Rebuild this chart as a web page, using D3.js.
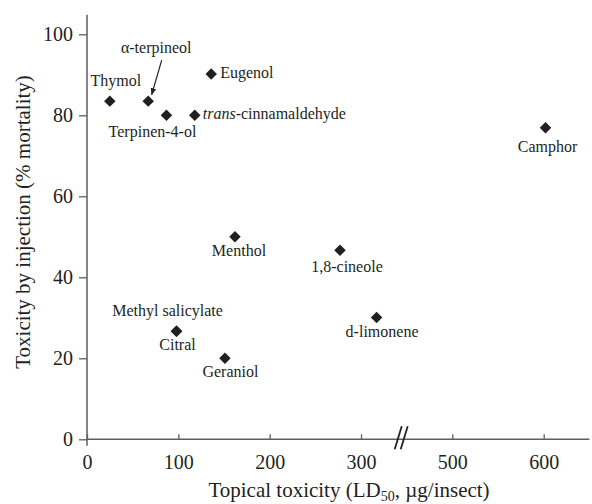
<!DOCTYPE html>
<html>
<head>
<meta charset="utf-8">
<script src="https://cdn.jsdelivr.net/npm/d3@7"></script>
<style>
  html, body { margin: 0; padding: 0; background: #fff; }
  svg { display: block; }
  text { font-family: "Liberation Serif", "Times New Roman", serif; fill: #231f20; }
</style>
</head>
<body>
<svg id="chart" width="592" height="504"></svg>
<script>
// ---- data ----
const compounds = ["Thymol", "α-terpineol", "Terpinen-4-ol", "trans-cinnamaldehyde", "Eugenol",
  "Camphor", "Menthol", "Methyl salicylate", "Citral", "Geraniol", "1,8-cineole", "d-limonene"];
const topicalLD50 = [25, 67, 87, 118, 136, 602, 162, 98, 98, 151, 277, 317];
const injectionMortality = [83.5, 83.5, 80, 80, 90.2, 76.9, 50, 26.7, 26.7, 20, 46.7, 30.1];
const xTicks = [0, 100, 200, 300, 500, 600];
const yTicks = [0, 20, 40, 60, 80, 100];

// ---- layout (label placement relative to marker, in px) ----
const labelLayout = {
  "Thymol": {dx: 6, dy: -15, anchor: "middle"},
  "α-terpineol": {dx: 8, dy: -48, anchor: "middle"},
  "Terpinen-4-ol": {dx: -14, dy: 22, anchor: "middle"},
  "trans-cinnamaldehyde": {dx: 8, dy: 4, anchor: "start"},
  "Eugenol": {dx: 9, dy: 4, anchor: "start"},
  "Camphor": {dx: 2, dy: 24, anchor: "middle"},
  "Menthol": {dx: 4, dy: 19.5, anchor: "middle"},
  "Methyl salicylate": {dx: -9, dy: -15, anchor: "middle"},
  "Citral": {dx: 1, dy: 19, anchor: "middle"},
  "Geraniol": {dx: 5.5, dy: 18.5, anchor: "middle"},
  "1,8-cineole": {dx: 7, dy: 21.5, anchor: "middle"},
  "d-limonene": {dx: 5.5, dy: 20, anchor: "middle"}
};

const svg = d3.select("#chart");
const x0 = 87, k = 0.9134;
// broken axis: values 350..450 are cut out of the axis
const x = d3.scaleLinear()
  .domain([0, 350, 450, 650])
  .range([x0, x0 + 350 * k, x0 + 350 * k, x0 + 550 * k]);
const y = d3.scaleLinear().domain([0, 100]).range([439.3, 34.3]);

const axisColor = "#5e5e5e";

// y axis
const yAxis = d3.axisLeft(y).tickValues(yTicks).tickSize(8).tickPadding(6).tickSizeOuter(0);
const gy = svg.append("g").attr("transform", `translate(${x0},0)`).call(yAxis);
gy.select(".domain").remove();
gy.selectAll(".tick line").attr("stroke", axisColor).attr("stroke-width", 1.3);
gy.selectAll(".tick text").style("font-size", "20px").attr("fill", "#231f20")
  .style("font-family", "'Liberation Serif', serif");
svg.append("line").attr("x1", x0).attr("x2", x0)
  .attr("y1", y(0) + 6.5).attr("y2", y(104.8))
  .attr("stroke", axisColor).attr("stroke-width", 1.5);

// x axis
const xAxis = d3.axisBottom(x).tickValues(xTicks).tickSize(-5).tickPadding(16).tickSizeOuter(0)
  .tickFormat(d3.format("d"));
const gx = svg.append("g").attr("transform", `translate(0,${y(0)})`).call(xAxis);
gx.select(".domain").remove();
gx.selectAll(".tick line").attr("stroke", axisColor).attr("stroke-width", 1.3);
gx.selectAll(".tick text").style("font-size", "20px").attr("fill", "#231f20")
  .style("font-family", "'Liberation Serif', serif");
svg.append("line").attr("x1", x0).attr("x2", x(650))
  .attr("y1", y(0)).attr("y2", y(0))
  .attr("stroke", axisColor).attr("stroke-width", 1.5);

// break mark
const bx = x(344), by = y(0);
[-3, 3].forEach(off => {
  svg.append("line")
    .attr("x1", bx + off - 3.5).attr("y1", by + 10)
    .attr("x2", bx + off + 3.5).attr("y2", by - 13)
    .attr("stroke", "#222").attr("stroke-width", 1.8);
});

// points
const pts = compounds.map((c, i) => ({name: c, lx: topicalLD50[i], ly: injectionMortality[i]}));
const sym = d3.symbol().type(d3.symbolSquare).size(66);
svg.append("g").selectAll("path").data(pts).join("path")
  .attr("d", sym)
  .attr("transform", d => `translate(${x(d.lx)},${y(d.ly)}) rotate(45)`)
  .attr("fill", "#231f20");

// labels
const lab = svg.append("g").style("font-size", "16px");
pts.forEach(d => {
  const L = labelLayout[d.name];
  const t = lab.append("text")
    .attr("x", x(d.lx) + L.dx).attr("y", y(d.ly) + L.dy)
    .attr("text-anchor", L.anchor);
  if (d.name.startsWith("trans-")) {
    t.append("tspan").style("font-style", "italic").text("trans");
    t.append("tspan").text(d.name.slice(5));
  } else {
    t.text(d.name);
  }
});

// arrow for α-terpineol
const ai = compounds.indexOf("α-terpineol");
const ax = x(topicalLD50[ai]), ay = y(injectionMortality[ai]);
svg.append("defs").append("marker")
  .attr("id", "ah").attr("viewBox", "0 0 10 10").attr("refX", 9).attr("refY", 5)
  .attr("markerWidth", 7).attr("markerHeight", 7).attr("markerUnits", "userSpaceOnUse")
  .attr("orient", "auto")
  .append("path").attr("d", "M0,1 L10,5 L0,9 Z").attr("fill", "#231f20");
svg.append("line")
  .attr("x1", ax + 13.5).attr("y1", ay - 41)
  .attr("x2", ax + 3.5).attr("y2", ay - 6.5)
  .attr("stroke", "#231f20").attr("stroke-width", 1.2)
  .attr("marker-end", "url(#ah)");

// axis titles
const xt = svg.append("text").attr("x", 349).attr("y", 497)
  .attr("text-anchor", "middle").style("font-size", "21px");
xt.append("tspan").text("Topical toxicity (LD");
xt.append("tspan").attr("dy", 3.5).style("font-size", "14px").text("50");
xt.append("tspan").attr("dy", -3.5).text(", µg/insect)");

svg.append("text")
  .attr("transform", "translate(30,222) rotate(-90)")
  .attr("text-anchor", "middle").style("font-size", "21px")
  .text("Toxicity by injection (% mortality)");
</script>
</body>
</html>
